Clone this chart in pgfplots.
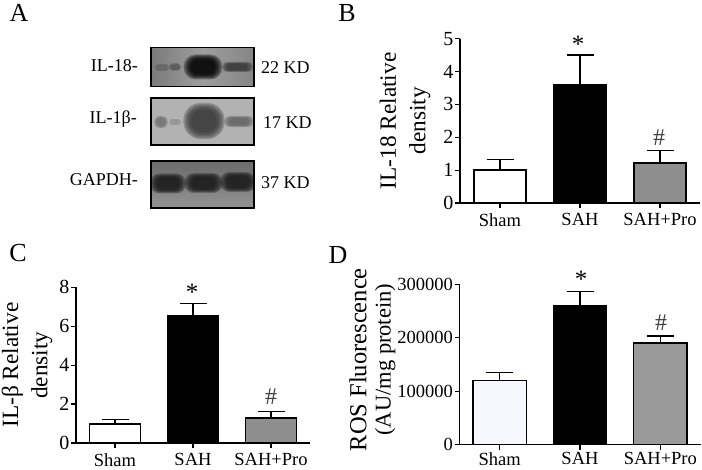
\documentclass[border=0pt]{standalone}
\usepackage{fontspec}
\setmainfont{Liberation Serif}
\usepackage{pgfplots}
\pgfplotsset{compat=1.18}
\definecolor{bargray}{HTML}{8E8E8E}
\definecolor{bargrayd}{HTML}{9A9A9A}
\definecolor{paleblue}{HTML}{F7F8FF}
\newcommand{\fsz}[1]{\fontsize{#1}{#1}\selectfont}
% all lengths are in reference pixels: 1pt = 1px
\pgfplotsset{
  panel/.style={
    scale only axis, axis lines=left, axis line style={-, line width=1.3pt, black},
    ymin=0, xmin=0.5, xmax=3.5, xtick={1,2,3},
    xticklabels={Sham,SAH,SAH+Pro},
    x tick label style={font=\fsz{18.5}, yshift=-2pt},
    y tick label style={font=\fsz{20}, xshift=2pt},
    /pgf/number format/fixed, /pgf/number format/precision=0,
    /pgf/number format/assume math mode=true,
    scaled y ticks=false, /pgf/number format/1000 sep={},
    tick style={black, line width=1.2pt}, major tick length=5pt,
    tick align=outside, clip=false,
    ybar, bar shift=0pt,
    label style={font=\fsz{23.3}, align=center},
    every axis plot/.append style={draw=black, line width=1.4pt,
      /pgfplots/error bars/y dir=plus, /pgfplots/error bars/y explicit,
      /pgfplots/error bars/error bar style={black, line width=1.4pt},
      /pgfplots/error bars/error mark options={rotate=90, mark size=13.5pt, line width=1.4pt, black}},
  }
}
\newcommand{\txt}[4][22]{\node[font=\fsz{#1}, inner sep=0pt, anchor=center] at (#2pt,{(469-#3)*1pt}) {#4};}
% blot bands: stacked see-through rounded bars give the soft edge
\newcommand{\band}[5]{\foreach \s in {1.25,1.15,1.05,0.95,0.85,0.75}{
  \fill[#5, fill opacity=0.3, rounded corners={#4*\s*0.95*1pt}]
    ({(#1-#3*\s)*1pt},{(469-#2-#4*\s)*1pt}) rectangle ({(#1+#3*\s)*1pt},{(469-#2+#4*\s)*1pt});}}
\begin{document}
\begin{tikzpicture}[x=1pt,y=1pt]
\useasboundingbox (0,0) rectangle (702pt,469pt);

% panel A: blots
\shade[left color=black!52, right color=black!48, middle color=black!38] (151pt,{(469-47.5)*1pt}) rectangle (254pt,{(469-86.5)*1pt});
\begin{scope}
\clip (151pt,{(469-47.5)*1pt}) rectangle (254pt,{(469-86.5)*1pt});
\band{162}{67.5}{6}{3}{black!60}
\band{175}{67}{5}{3}{black!65}
\band{203}{67}{15.5}{10}{black}
\band{237.5}{67}{12.5}{4}{black!78}
\end{scope}
\draw[line width=1.1pt] (151pt,{(469-47.5)*1pt}) rectangle (254pt,{(469-86.5)*1pt});

\fill[black!30] (151pt,{(469-98)*1pt}) rectangle (254pt,{(469-145)*1pt});
\begin{scope}
\clip (151pt,{(469-98)*1pt}) rectangle (254pt,{(469-145)*1pt});
\band{161}{122}{5.5}{5}{black!55}
\band{175}{122}{5}{2.5}{black!42}
\band{204}{121}{16.5}{14.5}{black!78}
\band{239}{121.5}{12}{4.5}{black!60}
\end{scope}
\draw[line width=1.1pt] (151pt,{(469-98)*1pt}) rectangle (254pt,{(469-145)*1pt});

\shade[top color=black!58, bottom color=black!42] (151pt,{(469-161)*1pt}) rectangle (254pt,{(469-208)*1pt});
\begin{scope}
\clip (151pt,{(469-161)*1pt}) rectangle (254pt,{(469-208)*1pt});
\band{168}{183.5}{14.5}{8}{black!90}
\band{203.5}{183}{15.5}{8}{black!90}
\band{238}{182}{14.5}{8}{black!90}
\end{scope}
\draw[line width=1.1pt] (151pt,{(469-161)*1pt}) rectangle (254pt,{(469-208)*1pt});

\txt[26]{19}{13}{A}
\txt[26]{347}{13}{B}
\txt[26]{18}{253}{C}
\txt[26]{338}{255}{D}
\node[font=\fsz{18}, anchor=east, inner sep=0pt] at (138pt,{(469-66)*1pt}) {IL-18-};
\node[font=\fsz{18}, anchor=east, inner sep=0pt] at (137pt,{(469-119)*1pt}) {IL-1β-};
\node[font=\fsz{18}, anchor=east, inner sep=0pt] at (138pt,{(469-180)*1pt}) {GAPDH-};
\node[font=\fsz{18}, anchor=west, inner sep=0pt] at (261pt,{(469-68)*1pt}) {22 KD};
\node[font=\fsz{18}, anchor=west, inner sep=0pt] at (263pt,{(469-123)*1pt}) {17 KD};
\node[font=\fsz{18}, anchor=west, inner sep=0pt] at (261pt,{(469-182.5)*1pt}) {37 KD};

% panel B
\begin{axis}[panel, at={(460pt,266pt)}, anchor=origin, width=240pt, height=164.3pt, bar width=52pt,
  ymax=5, ytick={0,1,2,3,4,5},
  ylabel={IL-18 Relative\\[6pt]density},
  ylabel style={at={(axis description cs:-0.229,0.5)}, anchor=center}]
\addplot[fill=white] coordinates {(1,1) +- (0,0.32)};
\addplot[fill=black] coordinates {(2,3.6) +- (0,0.9)};
\addplot[fill=bargray] coordinates {(3,1.22) +- (0,0.38)};
\end{axis}
\txt[25]{578}{44}{*}
\txt[24]{659}{137.5}{\textcolor{black!75}{\#}}

% panel C
\begin{axis}[panel, at={(76pt,26pt)}, anchor=origin, width=234pt, height=155.7pt, bar width=51pt,
  ymax=8, ytick={0,2,4,6,8},
  ylabel={IL-β Relative\\[6pt]density},
  ylabel style={at={(axis description cs:-0.209,0.5)}, anchor=center}]
\addplot[fill=white] coordinates {(1,0.98) +- (0,0.24)};
\addplot[fill=black] coordinates {(2,6.56) +- (0,0.62)};
\addplot[fill=bargray] coordinates {(3,1.28) +- (0,0.35)};
\end{axis}
\txt[25]{192}{292}{*}
\txt[24]{271}{397}{\textcolor{black!75}{\#}}

% panel D
\begin{axis}[panel, at={(459.5pt,24.3pt)}, anchor=origin, width=241pt, height=160.4pt, bar width=53.5pt,
  ymax=300000, ytick={0,100000,200000,300000},
  y tick label style={font=\fsz{18.5}},
  x tick label style={yshift=3pt},
  ylabel={\fsz{24.5}ROS Fluorescence\\[1pt]\fsz{22.5}(AU/mg protein)},
  ylabel style={at={(axis description cs:-0.361,0.53)}, anchor=center}]
\addplot[fill=paleblue] coordinates {(1,120000) +- (0,15300)};
\addplot[fill=black] coordinates {(2,260000) +- (0,26000)};
\addplot[fill=bargrayd] coordinates {(3,190000) +- (0,13500)};
\end{axis}
\txt[25]{581}{279}{*}
\txt[24]{661}{322.5}{\textcolor{black!75}{\#}}
\end{tikzpicture}
\end{document}
